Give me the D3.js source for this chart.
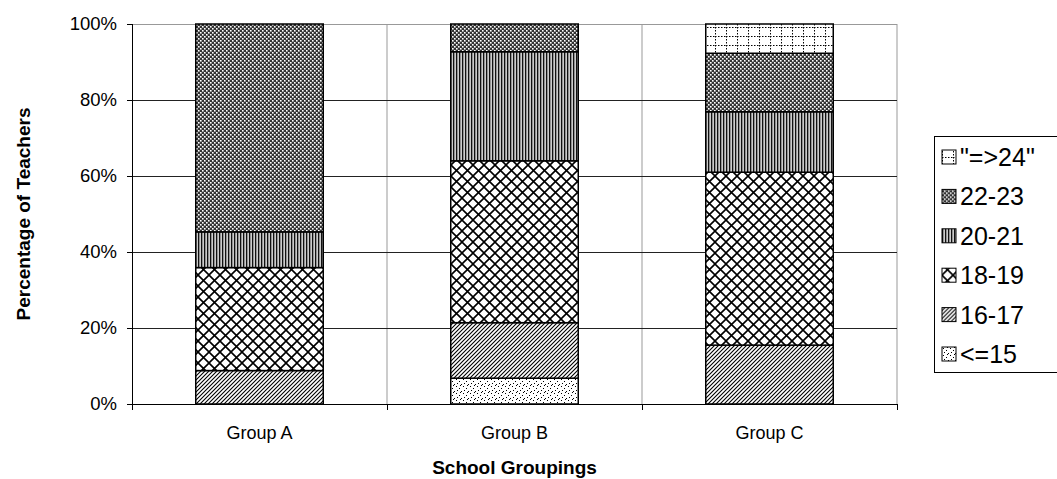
<!DOCTYPE html>
<html lang="en">
<head>
  <meta charset="utf-8">
  <title>Percentage of Teachers by School Grouping</title>
  <script src="https://d3js.org/d3.v7.min.js"></script>
  <style>
    body { margin: 0; background: #fff; }
    svg { display: block; font-family: "Liberation Sans", Arial, sans-serif; }
  </style>
</head>
<body>
  <svg id="chart" width="1057" height="479"></svg>

  <script>
    // data (percent of teachers)
    const groups = ["Group A", "Group B", "Group C"];
    const bands = ["<=15", "16-17", "18-19", "20-21", "22-23", "\"=>24\""];
    const le15  = [0,    6.8,  0];
    const b1617 = [8.8,  14.6, 15.5];
    const b1819 = [27.1, 42.6, 45.5];
    const b2021 = [9.4,  28.7, 15.9];
    const b2223 = [54.7, 7.3,  15.4];
    const ge24  = [0,    0,    7.7];
    const yTicks = [0, 20, 40, 60, 80, 100];

    const series = [le15, b1617, b1819, b2021, b2223, ge24];
    const table = groups.map((g, i) => {
      const row = { group: g };
      bands.forEach((b, k) => row[b] = series[k][i]);
      return row;
    });

    const svg = d3.select("#chart");
    const plotL = 132, plotR = 897, plotT = 24, plotB = 404;

    // fill patterns, one per band
    const defs = svg.append("defs");
    const pat = (id, w, h) => defs.append("pattern")
      .attr("id", id).attr("patternUnits", "userSpaceOnUse")
      .attr("width", w).attr("height", h);

    let p = pat("p0", 7, 7);
    p.append("rect").attr("width", 7).attr("height", 7).attr("fill", "#fff");
    [[1, 1], [4, 3], [2, 5], [6, 6], [5, 0]].forEach(([x, y]) =>
      p.append("rect").attr("x", x).attr("y", y).attr("width", 1).attr("height", 1).attr("fill", "#000"));

    p = pat("p1", 4, 4);
    p.append("rect").attr("width", 4).attr("height", 4).attr("fill", "#fff");
    p.append("path").attr("d", "M-1,1 L1,-1 M0,4 L4,0 M3,5 L5,3").attr("stroke", "#000").attr("stroke-width", 1.1);

    p = pat("p2", 11, 11);
    p.append("rect").attr("width", 11).attr("height", 11).attr("fill", "#fff");
    p.append("path").attr("d", "M0,0 L11,11 M11,0 L0,11").attr("stroke", "#000").attr("stroke-width", 1.6);

    p = pat("p3", 3, 3);
    p.append("rect").attr("width", 3).attr("height", 3).attr("fill", "#ccc");
    p.append("rect").attr("x", 0).attr("width", 1.3).attr("height", 3).attr("fill", "#111");

    p = pat("p4", 4, 4);
    p.append("rect").attr("width", 4).attr("height", 4).attr("fill", "#333");
    p.append("rect").attr("x", 0).attr("y", 0).attr("width", 1.6).attr("height", 1.6).attr("fill", "#fff");
    p.append("rect").attr("x", 2).attr("y", 2).attr("width", 1.6).attr("height", 1.6).attr("fill", "#fff");

    p = pat("p5", 11, 9);
    p.append("rect").attr("width", 11).attr("height", 9).attr("fill", "#fff");
    p.append("path").attr("d", "M0,0.5 H11 M0.5,0 V9").attr("stroke", "#000")
      .attr("stroke-width", 1).attr("stroke-dasharray", "1.5,1.5");

    const x = d3.scaleBand().domain(groups).range([plotL, plotR])
      .paddingInner(0.5).paddingOuter(0.25);
    const y = d3.scaleLinear().domain([0, 100]).range([plotB, plotT]);

    // grid
    const step = x.step();
    const cuts = d3.range(groups.length + 1).map(i => plotL + i * step);
    svg.append("g").selectAll("line").data(cuts.slice(1)).join("line")
      .attr("x1", d => d).attr("x2", d => d).attr("y1", plotT).attr("y2", plotB)
      .attr("stroke", "#999").attr("stroke-width", 1);
    svg.append("g").selectAll("line").data(yTicks.filter(t => t > 0)).join("line")
      .attr("x1", plotL).attr("x2", plotR)
      .attr("y1", d => Math.round(y(d)) + 0.5).attr("y2", d => Math.round(y(d)) + 0.5)
      .attr("stroke", d => d === 100 ? "#999" : "#222").attr("stroke-width", 1);

    // bars
    const stack = d3.stack().keys(bands)(table);
    const layer = svg.append("g").selectAll("g").data(stack).join("g")
      .attr("fill", (d, i) => `url(#p${i})`);
    layer.selectAll("rect").data(d => d.filter(s => s[1] - s[0] > 0)).join("rect")
      .attr("x", d => x(d.data.group))
      .attr("width", x.bandwidth())
      .attr("y", d => y(d[1]))
      .attr("height", d => y(d[0]) - y(d[1]))
      .attr("stroke", "#000").attr("stroke-width", 1.5);

    // axes
    svg.append("line").attr("x1", plotL + 0.5).attr("x2", plotL + 0.5).attr("y1", plotT).attr("y2", plotB)
      .attr("stroke", "#000");
    svg.append("line").attr("x1", plotL).attr("x2", plotR).attr("y1", plotB + 0.5).attr("y2", plotB + 0.5)
      .attr("stroke", "#000");
    svg.append("g").selectAll("line").data(yTicks).join("line")
      .attr("x1", plotL - 5).attr("x2", plotL)
      .attr("y1", d => Math.round(y(d)) + 0.5).attr("y2", d => Math.round(y(d)) + 0.5)
      .attr("stroke", "#000");
    svg.append("g").selectAll("line").data(cuts).join("line")
      .attr("x1", d => d + 0.5).attr("x2", d => d + 0.5).attr("y1", plotB).attr("y2", plotB + 6)
      .attr("stroke", "#000");

    svg.append("g").selectAll("text").data(yTicks).join("text")
      .attr("x", 117).attr("y", d => y(d)).attr("dy", "0.35em")
      .attr("text-anchor", "end").attr("font-size", 18.5)
      .text(d => d + "%");
    svg.append("g").selectAll("text").data(groups).join("text")
      .attr("x", d => x(d) + x.bandwidth() / 2).attr("y", 439)
      .attr("text-anchor", "middle").attr("font-size", 18)
      .text(d => d);

    svg.append("text").attr("x", (plotL + plotR) / 2).attr("y", 474)
      .attr("text-anchor", "middle").attr("font-size", 19).attr("font-weight", "bold")
      .text("School Groupings");
    svg.append("text").attr("transform", "translate(30,214) rotate(-90)")
      .attr("text-anchor", "middle").attr("font-size", 19).attr("font-weight", "bold")
      .text("Percentage of Teachers");

    // legend, top entry is the last band
    const lg = svg.append("g");
    lg.append("rect").attr("x", 934.5).attr("y", 136.5).attr("width", 130).attr("height", 236)
      .attr("fill", "#fff").attr("stroke", "#000");
    const items = bands.map((b, i) => ({ b, i })).reverse();
    const row = lg.selectAll("g").data(items).join("g")
      .attr("transform", (d, k) => `translate(942,${157 + k * 39.4})`);
    row.append("rect").attr("x", 0).attr("y", -7).attr("width", 14).attr("height", 14)
      .attr("fill", d => `url(#p${d.i})`).attr("stroke", "#000");
    row.append("text").attr("x", 18).attr("dy", "0.36em").attr("font-size", 25)
      .text(d => d.b);
  </script>
</body>
</html>
